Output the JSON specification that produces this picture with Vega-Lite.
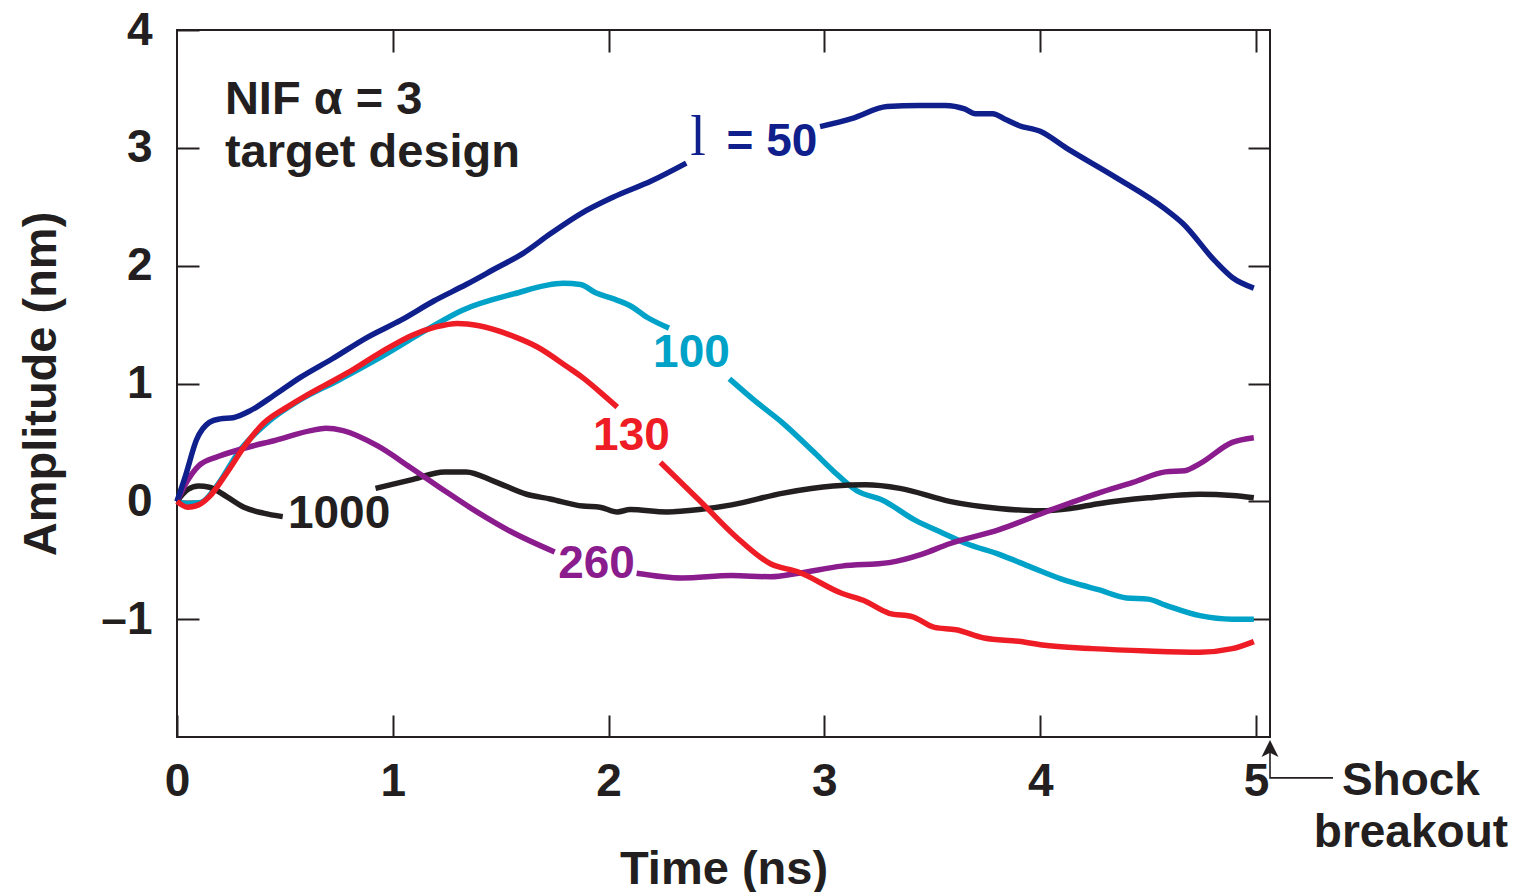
{
  "$schema": "https://vega.github.io/schema/vega-lite/v6.json",
  "width": 1093,
  "height": 707,
  "autosize": "none",
  "padding": {"left": 177, "top": 30, "right": 250, "bottom": 155},
  "background": "white",
  "config": {
    "view": {"stroke": "#231f20", "strokeWidth": 2},
    "font": "Liberation Sans",
    "line": {"strokeWidth": 5.5},
    "axis": {
      "labelFont": "Liberation Sans",
      "labelFontSize": 46,
      "labelFontWeight": "bold",
      "labelColor": "#231f20",
      "titleFont": "Liberation Sans",
      "titleFontSize": 47,
      "titleFontWeight": "bold",
      "titleColor": "#231f20",
      "tickColor": "#231f20",
      "tickWidth": 2,
      "tickSize": -22,
      "domain": false,
      "grid": false,
      "labelFlush": false,
      "labelOverlap": false,
      "labelBound": false
    }
  },
  "datasets": {
    "curves": [
      {"l":"100","g":"100a","t":0,"a":0},{"l":"100","g":"100a","t":0.05,"a":-0.02},{"l":"100","g":"100a","t":0.11,"a":-0.01},{"l":"100","g":"100a","t":0.18,"a":0.12},{"l":"100","g":"100a","t":0.29,"a":0.43},{"l":"100","g":"100a","t":0.42,"a":0.67},{"l":"100","g":"100a","t":0.57,"a":0.86},{"l":"100","g":"100a","t":0.75,"a":1.03},{"l":"100","g":"100a","t":0.94,"a":1.22},{"l":"100","g":"100a","t":1.17,"a":1.47},{"l":"100","g":"100a","t":1.32,"a":1.62},{"l":"100","g":"100a","t":1.56,"a":1.76},{"l":"100","g":"100a","t":1.79,"a":1.85},{"l":"100","g":"100a","t":1.87,"a":1.84},{"l":"100","g":"100a","t":1.94,"a":1.77},{"l":"100","g":"100a","t":2.02,"a":1.72},{"l":"100","g":"100a","t":2.1,"a":1.66},{"l":"100","g":"100a","t":2.18,"a":1.56},{"l":"100","g":"100a","t":2.28,"a":1.47},
      {"l":"100","g":"100b","t":2.56,"a":1.04},{"l":"100","g":"100b","t":2.68,"a":0.85},{"l":"100","g":"100b","t":2.81,"a":0.66},{"l":"100","g":"100b","t":2.95,"a":0.42},{"l":"100","g":"100b","t":3.04,"a":0.26},{"l":"100","g":"100b","t":3.15,"a":0.09},{"l":"100","g":"100b","t":3.27,"a":0.01},{"l":"100","g":"100b","t":3.42,"a":-0.16},{"l":"100","g":"100b","t":3.55,"a":-0.27},{"l":"100","g":"100b","t":3.66,"a":-0.36},{"l":"100","g":"100b","t":3.81,"a":-0.45},{"l":"100","g":"100b","t":3.96,"a":-0.56},{"l":"100","g":"100b","t":4.1,"a":-0.66},{"l":"100","g":"100b","t":4.19,"a":-0.71},{"l":"100","g":"100b","t":4.27,"a":-0.75},{"l":"100","g":"100b","t":4.4,"a":-0.82},{"l":"100","g":"100b","t":4.5,"a":-0.83},{"l":"100","g":"100b","t":4.58,"a":-0.88},{"l":"100","g":"100b","t":4.74,"a":-0.97},{"l":"100","g":"100b","t":4.89,"a":-1.0},{"l":"100","g":"100b","t":4.99,"a":-1.0},

      {"l":"1000","g":"1000a","t":0,"a":0},{"l":"1000","g":"1000a","t":0.05,"a":0.1},{"l":"1000","g":"1000a","t":0.1,"a":0.13},{"l":"1000","g":"1000a","t":0.15,"a":0.12},{"l":"1000","g":"1000a","t":0.23,"a":0.04},{"l":"1000","g":"1000a","t":0.31,"a":-0.05},{"l":"1000","g":"1000a","t":0.4,"a":-0.1},{"l":"1000","g":"1000a","t":0.49,"a":-0.13},
      {"l":"1000","g":"1000b","t":0.92,"a":0.11},{"l":"1000","g":"1000b","t":1.08,"a":0.18},{"l":"1000","g":"1000b","t":1.24,"a":0.25},{"l":"1000","g":"1000b","t":1.34,"a":0.25},{"l":"1000","g":"1000b","t":1.47,"a":0.17},{"l":"1000","g":"1000b","t":1.62,"a":0.06},{"l":"1000","g":"1000b","t":1.73,"a":0.02},{"l":"1000","g":"1000b","t":1.88,"a":-0.04},{"l":"1000","g":"1000b","t":1.96,"a":-0.05},{"l":"1000","g":"1000b","t":2.04,"a":-0.09},{"l":"1000","g":"1000b","t":2.1,"a":-0.07},{"l":"1000","g":"1000b","t":2.27,"a":-0.09},{"l":"1000","g":"1000b","t":2.42,"a":-0.07},{"l":"1000","g":"1000b","t":2.57,"a":-0.03},{"l":"1000","g":"1000b","t":2.81,"a":0.07},{"l":"1000","g":"1000b","t":3.04,"a":0.13},{"l":"1000","g":"1000b","t":3.19,"a":0.14},{"l":"1000","g":"1000b","t":3.35,"a":0.11},{"l":"1000","g":"1000b","t":3.58,"a":0.0},{"l":"1000","g":"1000b","t":3.81,"a":-0.06},{"l":"1000","g":"1000b","t":4.0,"a":-0.08},{"l":"1000","g":"1000b","t":4.14,"a":-0.06},{"l":"1000","g":"1000b","t":4.27,"a":-0.02},{"l":"1000","g":"1000b","t":4.5,"a":0.03},{"l":"1000","g":"1000b","t":4.74,"a":0.06},{"l":"1000","g":"1000b","t":4.89,"a":0.05},{"l":"1000","g":"1000b","t":4.99,"a":0.03},

      {"l":"260","g":"260a","t":0,"a":0},{"l":"260","g":"260a","t":0.05,"a":0.18},{"l":"260","g":"260a","t":0.1,"a":0.3},{"l":"260","g":"260a","t":0.19,"a":0.38},{"l":"260","g":"260a","t":0.31,"a":0.45},{"l":"260","g":"260a","t":0.46,"a":0.52},{"l":"260","g":"260a","t":0.62,"a":0.6},{"l":"260","g":"260a","t":0.69,"a":0.62},{"l":"260","g":"260a","t":0.77,"a":0.6},{"l":"260","g":"260a","t":0.93,"a":0.47},{"l":"260","g":"260a","t":1.08,"a":0.29},{"l":"260","g":"260a","t":1.24,"a":0.09},{"l":"260","g":"260a","t":1.39,"a":-0.09},{"l":"260","g":"260a","t":1.54,"a":-0.25},{"l":"260","g":"260a","t":1.75,"a":-0.43},
      {"l":"260","g":"260b","t":2.13,"a":-0.61},{"l":"260","g":"260b","t":2.34,"a":-0.65},{"l":"260","g":"260b","t":2.57,"a":-0.63},{"l":"260","g":"260b","t":2.75,"a":-0.64},{"l":"260","g":"260b","t":2.88,"a":-0.61},{"l":"260","g":"260b","t":3.08,"a":-0.55},{"l":"260","g":"260b","t":3.3,"a":-0.52},{"l":"260","g":"260b","t":3.45,"a":-0.45},{"l":"260","g":"260b","t":3.58,"a":-0.36},{"l":"260","g":"260b","t":3.81,"a":-0.24},{"l":"260","g":"260b","t":4.04,"a":-0.08},{"l":"260","g":"260b","t":4.27,"a":0.07},{"l":"260","g":"260b","t":4.43,"a":0.16},{"l":"260","g":"260b","t":4.58,"a":0.25},{"l":"260","g":"260b","t":4.67,"a":0.26},{"l":"260","g":"260b","t":4.74,"a":0.32},{"l":"260","g":"260b","t":4.89,"a":0.5},{"l":"260","g":"260b","t":4.99,"a":0.54},

      {"l":"50","g":"50a","t":0,"a":0},{"l":"50","g":"50a","t":0.04,"a":0.22},{"l":"50","g":"50a","t":0.09,"a":0.52},{"l":"50","g":"50a","t":0.15,"a":0.67},{"l":"50","g":"50a","t":0.2,"a":0.7},{"l":"50","g":"50a","t":0.26,"a":0.71},{"l":"50","g":"50a","t":0.34,"a":0.77},{"l":"50","g":"50a","t":0.45,"a":0.9},{"l":"50","g":"50a","t":0.57,"a":1.05},{"l":"50","g":"50a","t":0.72,"a":1.21},{"l":"50","g":"50a","t":0.88,"a":1.39},{"l":"50","g":"50a","t":1.04,"a":1.54},{"l":"50","g":"50a","t":1.19,"a":1.7},{"l":"50","g":"50a","t":1.34,"a":1.84},{"l":"50","g":"50a","t":1.48,"a":1.98},{"l":"50","g":"50a","t":1.6,"a":2.1},{"l":"50","g":"50a","t":1.73,"a":2.27},{"l":"50","g":"50a","t":1.87,"a":2.44},{"l":"50","g":"50a","t":2.02,"a":2.58},{"l":"50","g":"50a","t":2.2,"a":2.72},{"l":"50","g":"50a","t":2.36,"a":2.87},
      {"l":"50","g":"50b","t":2.98,"a":3.18},{"l":"50","g":"50b","t":3.13,"a":3.25},{"l":"50","g":"50b","t":3.29,"a":3.35},{"l":"50","g":"50b","t":3.44,"a":3.36},{"l":"50","g":"50b","t":3.56,"a":3.36},{"l":"50","g":"50b","t":3.65,"a":3.33},{"l":"50","g":"50b","t":3.7,"a":3.29},{"l":"50","g":"50b","t":3.78,"a":3.29},{"l":"50","g":"50b","t":3.84,"a":3.24},{"l":"50","g":"50b","t":3.9,"a":3.19},{"l":"50","g":"50b","t":4.0,"a":3.14},{"l":"50","g":"50b","t":4.12,"a":3.0},{"l":"50","g":"50b","t":4.35,"a":2.75},{"l":"50","g":"50b","t":4.58,"a":2.48},{"l":"50","g":"50b","t":4.66,"a":2.36},{"l":"50","g":"50b","t":4.81,"a":2.04},{"l":"50","g":"50b","t":4.89,"a":1.9},{"l":"50","g":"50b","t":4.99,"a":1.81},

      {"l":"130","g":"130a","t":0,"a":0},{"l":"130","g":"130a","t":0.05,"a":-0.05},{"l":"130","g":"130a","t":0.1,"a":-0.03},{"l":"130","g":"130a","t":0.15,"a":0.04},{"l":"130","g":"130a","t":0.23,"a":0.24},{"l":"130","g":"130a","t":0.31,"a":0.46},{"l":"130","g":"130a","t":0.4,"a":0.66},{"l":"130","g":"130a","t":0.51,"a":0.8},{"l":"130","g":"130a","t":0.6,"a":0.9},{"l":"130","g":"130a","t":0.68,"a":0.98},{"l":"130","g":"130a","t":0.8,"a":1.1},{"l":"130","g":"130a","t":0.94,"a":1.26},{"l":"130","g":"130a","t":1.09,"a":1.41},{"l":"130","g":"130a","t":1.2,"a":1.48},{"l":"130","g":"130a","t":1.3,"a":1.51},{"l":"130","g":"130a","t":1.4,"a":1.49},{"l":"130","g":"130a","t":1.56,"a":1.4},{"l":"130","g":"130a","t":1.67,"a":1.31},{"l":"130","g":"130a","t":1.81,"a":1.14},{"l":"130","g":"130a","t":1.88,"a":1.05},{"l":"130","g":"130a","t":1.99,"a":0.88},{"l":"130","g":"130a","t":2.04,"a":0.8},
      {"l":"130","g":"130b","t":2.24,"a":0.33},{"l":"130","g":"130b","t":2.42,"a":0.01},{"l":"130","g":"130b","t":2.59,"a":-0.3},{"l":"130","g":"130b","t":2.75,"a":-0.53},{"l":"130","g":"130b","t":2.88,"a":-0.6},{"l":"130","g":"130b","t":3.08,"a":-0.78},{"l":"130","g":"130b","t":3.18,"a":-0.84},{"l":"130","g":"130b","t":3.3,"a":-0.95},{"l":"130","g":"130b","t":3.41,"a":-0.98},{"l":"130","g":"130b","t":3.51,"a":-1.07},{"l":"130","g":"130b","t":3.61,"a":-1.09},{"l":"130","g":"130b","t":3.74,"a":-1.16},{"l":"130","g":"130b","t":3.91,"a":-1.19},{"l":"130","g":"130b","t":4.01,"a":-1.22},{"l":"130","g":"130b","t":4.24,"a":-1.25},{"l":"130","g":"130b","t":4.5,"a":-1.27},{"l":"130","g":"130b","t":4.74,"a":-1.28},{"l":"130","g":"130b","t":4.89,"a":-1.25},{"l":"130","g":"130b","t":4.99,"a":-1.19}
    ],
    "serieslabels": [
      {"l":"50","txt":"= 50","t":2.757,"a":2.932},
      {"l":"100","txt":"100","t":2.384,"a":1.136},
      {"l":"130","txt":"130","t":2.106,"a":0.432},
      {"l":"260","txt":"260","t":1.944,"a":-0.653},
      {"l":"1000","txt":"1000","t":0.751,"a":-0.229}
    ],
    "ell": [{"l":"50","txt":"l","t":2.414,"a":2.941}],
    "notes": [
      {"txt":"NIF α = 3","t":0.222,"a":3.288},
      {"txt":"target design","t":0.222,"a":2.839}
    ],
    "shock": [
      {"txt":"Shock","t":5.718,"a":-2.49},
      {"txt":"breakout","t":5.718,"a":-2.93}
    ],
    "connector": [
      {"t":5.065,"a":-2.07,"o":0},
      {"t":5.065,"a":-2.347,"o":1},
      {"t":5.357,"a":-2.347,"o":2}
    ],
    "arrowhead": [{"t":5.065,"a":-2.097}]
  },
  "layer": [
    {
      "data": {"name": "curves"},
      "mark": {"type": "line", "interpolate": "monotone", "strokeWidth": 5.5, "strokeCap": "butt", "strokeJoin": "round", "clip": false},
      "encoding": {
        "x": {
          "field": "t", "type": "quantitative",
          "scale": {"domain": [0, 5.065], "nice": false, "zero": false},
          "axis": {
            "orient": "bottom",
            "values": [0, 1, 2, 3, 4, 5],
            "labelPadding": 44,
            "title": "Time (ns)",
            "titleBaseline": "alphabetic",
            "titleY": 146
          }
        },
        "y": {
          "field": "a", "type": "quantitative",
          "scale": {"domain": [-2, 4], "nice": false, "zero": false},
          "axis": {
            "orient": "left",
            "values": [-1, 0, 1, 2, 3, 4],
            "labelPadding": 47,
            "labelExpr": "datum.value < 0 ? '–' + format(-datum.value, 'd') : datum.label",
            "title": "Amplitude (nm)",
            "titleAngle": -90,
            "titleBaseline": "alphabetic",
            "titleX": -122,
            "titleY": 353.5
          }
        },
        "color": {
          "field": "l", "type": "nominal",
          "scale": {"domain": ["50", "100", "130", "260", "1000"], "range": ["#0f208c", "#00a2c8", "#ee1c25", "#8a1c8d", "#231f20"]},
          "legend": null
        },
        "detail": {"field": "g", "type": "nominal"}
      }
    },
    {
      "data": {"values": [{"t": 0, "a": 0}]},
      "mark": {"type": "point", "opacity": 0},
      "encoding": {
        "x": {"field": "t", "type": "quantitative", "axis": {"orient": "top", "values": [1, 2, 3, 4, 5], "labels": false, "title": null}},
        "y": {"field": "a", "type": "quantitative", "axis": {"orient": "right", "values": [-1, 0, 1, 2, 3], "labels": false, "title": null}}
      }
    },
    {
      "data": {"name": "serieslabels"},
      "mark": {"type": "text", "font": "Liberation Sans", "fontSize": 46, "fontWeight": "bold", "align": "center", "baseline": "alphabetic", "clip": false},
      "encoding": {
        "x": {"field": "t", "type": "quantitative", "axis": null},
        "y": {"field": "a", "type": "quantitative", "axis": null},
        "text": {"field": "txt"},
        "color": {"field": "l", "type": "nominal", "legend": null}
      }
    },
    {
      "data": {"name": "ell"},
      "mark": {"type": "text", "font": "Liberation Serif", "fontSize": 56, "fontWeight": "normal", "align": "center", "baseline": "alphabetic", "clip": false},
      "encoding": {
        "x": {"field": "t", "type": "quantitative", "axis": null},
        "y": {"field": "a", "type": "quantitative", "axis": null},
        "text": {"field": "txt"},
        "color": {"field": "l", "type": "nominal", "legend": null}
      }
    },
    {
      "data": {"name": "notes"},
      "mark": {"type": "text", "font": "Liberation Sans", "fontSize": 47, "fontWeight": "bold", "align": "left", "baseline": "alphabetic", "color": "#231f20", "clip": false},
      "encoding": {
        "x": {"field": "t", "type": "quantitative", "axis": null},
        "y": {"field": "a", "type": "quantitative", "axis": null},
        "text": {"field": "txt"}
      }
    },
    {
      "data": {"name": "shock"},
      "mark": {"type": "text", "font": "Liberation Sans", "fontSize": 46, "fontWeight": "bold", "align": "center", "baseline": "alphabetic", "color": "#231f20", "clip": false},
      "encoding": {
        "x": {"field": "t", "type": "quantitative", "axis": null},
        "y": {"field": "a", "type": "quantitative", "axis": null},
        "text": {"field": "txt"}
      }
    },
    {
      "data": {"name": "connector"},
      "mark": {"type": "line", "interpolate": "linear", "strokeWidth": 1.6, "color": "#231f20", "clip": false},
      "encoding": {
        "x": {"field": "t", "type": "quantitative", "axis": null},
        "y": {"field": "a", "type": "quantitative", "axis": null},
        "order": {"field": "o", "type": "quantitative"}
      }
    },
    {
      "data": {"name": "arrowhead"},
      "mark": {"type": "point", "shape": "M0,-1L1,1L0,0.5L-1,1Z", "size": 289, "filled": true, "opacity": 1, "color": "#231f20", "clip": false},
      "encoding": {
        "x": {"field": "t", "type": "quantitative", "axis": null},
        "y": {"field": "a", "type": "quantitative", "axis": null}
      }
    }
  ],
  "resolve": {"axis": {"x": "independent", "y": "independent"}}
}
